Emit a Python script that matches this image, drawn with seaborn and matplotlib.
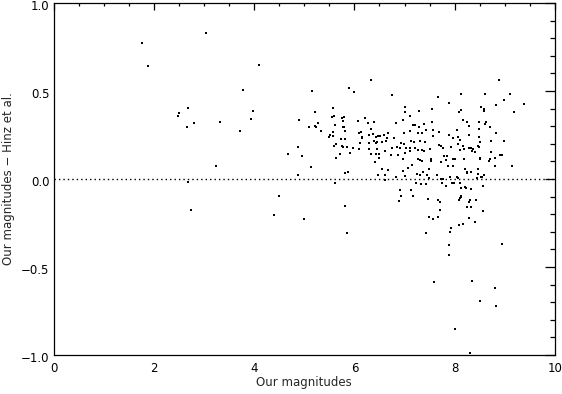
import numpy as np
import pandas as pd
import seaborn as sns
import matplotlib
matplotlib.use("Agg")
import matplotlib.pyplot as plt
import matplotlib.transforms as mtransforms
from matplotlib.ticker import MultipleLocator

# magnitudes (x) and differences (y)
our_mag = [
    1.76, 1.89, 3.05, 4.10, 3.78, 2.68, 2.50, 2.49, 2.66, 2.80, 3.33, 3.97, 3.94, 3.71,
    4.89, 4.88, 4.68, 4.88, 3.25, 2.68, 2.74, 4.49, 4.39,
    6.34, 5.89, 6.00, 5.16, 5.22, 5.57, 5.10, 5.22, 5.23, 5.27, 5.33, 5.55, 5.59, 5.62,
    5.75, 5.80, 5.78, 5.77, 5.79, 5.82, 5.57, 5.51, 5.49, 5.57, 5.73, 5.81, 5.63, 5.59,
    5.76, 5.78, 5.85, 5.97, 5.91, 5.71, 5.63, 6.07, 6.21, 6.27, 6.34, 6.40, 6.14, 6.09,
    6.15, 6.16, 6.30, 6.38, 6.44, 6.48, 6.12, 6.30, 6.40, 6.44, 6.46, 6.09, 6.30, 6.46,
    6.33, 6.44, 6.49, 6.42, 4.95, 5.13, 5.61, 5.82, 5.87, 6.48,
    6.75, 7.66, 8.12, 7.88, 7.01, 7.01, 7.29, 7.55, 8.09, 8.13, 7.11, 6.97, 6.83, 7.16,
    7.21, 7.38, 7.29, 7.54, 8.17, 8.25, 8.05, 7.56, 7.68, 7.42, 7.11, 6.99, 7.26, 7.35,
    6.68, 6.60, 6.51, 6.65, 6.78, 7.57, 7.89, 8.07, 8.11, 8.28, 7.96, 7.13, 7.18, 7.31,
    7.41, 6.55, 6.63, 6.92, 6.99, 7.68, 7.72, 7.77, 7.93, 8.07, 8.11, 8.19, 8.28, 6.62,
    6.75, 6.84, 6.90, 7.03, 7.10, 7.21, 7.26, 7.35, 7.39, 7.51, 7.00, 7.10, 6.50, 6.74,
    6.86, 6.97, 7.27, 7.30, 7.34, 7.53, 7.53, 7.79, 7.85, 7.82, 7.97, 8.00, 7.72, 7.87,
    7.96, 7.15, 7.06, 6.97, 6.67, 6.56, 7.49, 7.37, 8.21, 8.25, 6.61, 6.82, 7.01, 7.25,
    7.30, 7.44, 7.48, 7.65, 7.91, 8.04, 8.07, 7.72, 7.76, 6.62, 7.23, 7.32, 7.42, 7.75,
    7.83, 7.95, 7.99, 8.11, 8.13, 8.22, 6.90, 7.12, 6.92, 7.16, 8.12, 8.11, 7.46,
    8.88, 8.60, 9.10, 8.98, 9.39, 8.82, 8.53, 8.59, 8.58, 9.19, 8.49, 8.63, 8.29, 8.60,
    8.70, 8.48, 8.82, 8.48, 8.51, 8.72, 8.99, 8.17, 8.32, 8.46, 8.49, 8.35, 8.40, 8.37,
    8.73, 8.91, 8.95, 8.81, 8.71, 8.50, 8.51, 8.19, 8.68, 8.81, 9.15, 8.25, 8.33, 8.47,
    8.46, 8.45, 8.52, 8.54, 8.58, 8.57, 8.21, 8.33, 8.13, 8.30, 8.43,
    5.82, 5.00, 5.85,
    6.88, 7.67, 7.71, 7.71, 7.49, 7.57, 7.66, 7.42, 7.93, 7.91, 7.88, 7.88, 7.59, 8.01,
    8.09, 8.24, 8.28, 8.09, 8.17, 8.29, 8.30,
    8.33, 8.56, 8.40, 8.94, 8.35, 8.81, 8.50, 8.83,
]
mag_diff = [
    0.775, 0.64, 0.83, 0.65, 0.507, 0.405, 0.375, 0.358, 0.297, 0.32, 0.322, 0.386, 0.343, 0.271,
    0.337, 0.182, 0.14, 0.024, 0.071, -0.016, -0.175, -0.095, -0.203,
    0.562, 0.517, 0.494, 0.50, 0.382, 0.405, 0.296, 0.301, 0.294, 0.32, 0.271, 0.35, 0.358, 0.307,
    0.348, 0.354, 0.331, 0.294, 0.296, 0.273, 0.265, 0.25, 0.237, 0.246, 0.228, 0.228, 0.201, 0.19,
    0.19, 0.184, 0.18, 0.175, 0.15, 0.144, 0.12, 0.33, 0.345, 0.316, 0.284, 0.326, 0.269, 0.26,
    0.241, 0.233, 0.248, 0.258, 0.237, 0.245, 0.205, 0.207, 0.218, 0.205, 0.212, 0.171, 0.169, 0.173,
    0.143, 0.143, 0.122, 0.097, 0.131, 0.069, -0.02, 0.033, 0.042, 0.022,
    0.475, 0.467, 0.483, 0.432, 0.409, 0.379, 0.386, 0.395, 0.378, 0.39, 0.358, 0.333, 0.318, 0.307,
    0.307, 0.314, 0.296, 0.326, 0.333, 0.324, 0.28, 0.277, 0.267, 0.279, 0.273, 0.26, 0.262, 0.26,
    0.262, 0.252, 0.246, 0.233, 0.233, 0.246, 0.25, 0.241, 0.224, 0.248, 0.231, 0.214, 0.21, 0.218,
    0.208, 0.21, 0.216, 0.205, 0.201, 0.194, 0.188, 0.175, 0.182, 0.201, 0.167, 0.171, 0.175, 0.161,
    0.175, 0.182, 0.177, 0.177, 0.178, 0.177, 0.163, 0.163, 0.161, 0.169, 0.148, 0.158, 0.143, 0.135,
    0.139, 0.116, 0.116, 0.109, 0.103, 0.103, 0.116, 0.129, 0.131, 0.109, 0.112, 0.116, 0.095, 0.075,
    0.075, 0.08, 0.063, 0.048, 0.05, 0.058, 0.054, 0.042, 0.054, 0.037, 0.02, 0.014, 0.018, 0.03,
    0.02, 0.024, 0.007, 0.02, 0.012, 0.012, 0.005, 0.001, 0.001, -0.008, -0.022, -0.031, -0.027, -0.024,
    -0.037, -0.02, -0.025, -0.022, -0.05, -0.05, -0.061, -0.065, -0.097, -0.095, -0.095, -0.109, -0.114,
    0.562, 0.484, 0.484, 0.449, 0.426, 0.418, 0.407, 0.40, 0.384, 0.379, 0.324, 0.326, 0.301, 0.31,
    0.296, 0.286, 0.263, 0.241, 0.212, 0.218, 0.216, 0.186, 0.177, 0.188, 0.182, 0.161, 0.156, 0.17,
    0.156, 0.135, 0.137, 0.122, 0.116, 0.122, 0.116, 0.114, 0.101, 0.075, 0.073, 0.033, 0.042, 0.058,
    0.03, 0.007, 0.01, 0.014, 0.02, -0.041, -0.048, -0.058, -0.103, -0.122, -0.118,
    -0.152, -0.226, -0.307,
    -0.127, -0.122, -0.133, -0.178, -0.216, -0.229, -0.216, -0.305, -0.277, -0.299, -0.375, -0.432, -0.588, -0.853,
    -0.118, -0.158, -0.128, -0.263, -0.254, -0.222, -0.99,
    -0.16, -0.18, -0.245, -0.371, -0.581, -0.617, -0.696, -0.722,
]

df = pd.DataFrame({"mag": our_mag, "diff": mag_diff})

sns.set_style("white")
plt.rcParams["font.family"] = ["DejaVu Sans"]

fig = plt.figure(figsize=(5.62, 3.94), dpi=100)
ax = fig.add_axes([0.0952, 0.099, 0.8923, 0.8934])

sns.scatterplot(data=df, x="mag", y="diff", ax=ax, color="black", s=3,
                marker="s", linewidth=0, legend=False)
ax.axhline(0.0, color="black", lw=1.0, linestyle=(0, (1, 2.2)))

ax.set_xlim(0, 10)
ax.set_ylim(-1.0, 1.0)
ax.xaxis.set_minor_locator(MultipleLocator(0.5))
ax.yaxis.set_minor_locator(MultipleLocator(0.1))
ax.set_xticks([0, 2, 4, 6, 8, 10])
ax.set_xticklabels(["0", "2", "4", "6", "8", "10"])
ax.set_yticks([-1.0, -0.5, 0.0, 0.5, 1.0])
ax.set_yticklabels(["\u22121.0", "\u22120.5", "0.0", "0.5", "1.0"])

ax.tick_params(axis="both", which="both", direction="in", top=True, right=True,
               colors="black", labelsize=8.5, width=0.9)
ax.tick_params(axis="x", which="major", length=5, pad=5)
ax.tick_params(axis="x", which="minor", length=2.5)
ax.tick_params(axis="y", which="major", length=7, pad=3)
ax.tick_params(axis="y", which="minor", length=3.5)

# nudge y tick labels down a little, like the reference
shift = mtransforms.ScaledTranslation(0, -2 / 100, fig.dpi_scale_trans)
for lab in ax.get_yticklabels():
    lab.set_transform(lab.get_transform() + shift)

for sp in ax.spines.values():
    sp.set_color("black")
    sp.set_linewidth(0.9)

ax.set_xlabel("Our magnitudes", fontsize=8.5, labelpad=1)
ax.set_ylabel("Our magnitudes \u2212 Hinz et al.", fontsize=8.5, labelpad=4)

fig.savefig("out.png", dpi=100)
